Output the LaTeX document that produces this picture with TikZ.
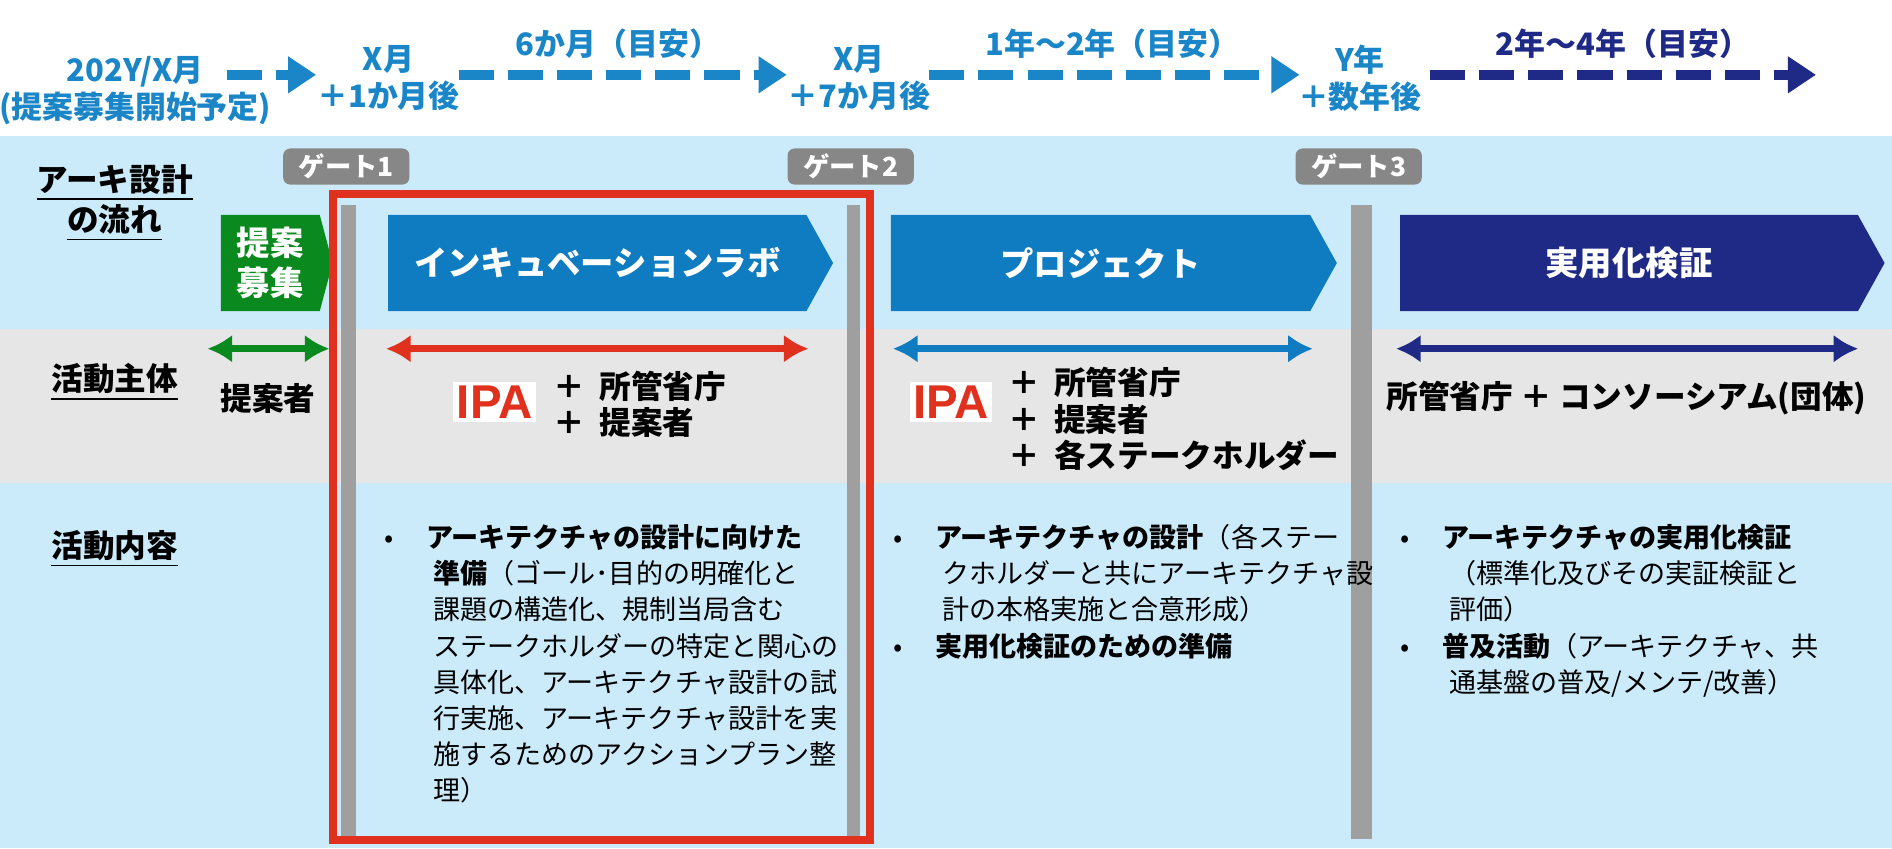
\documentclass[tikz,border=0pt]{standalone}
\usepackage{fontspec}
\setmainfont{Noto Sans CJK JP}
\newfontfamily\logofont{Liberation Sans}
\usetikzlibrary{shapes.symbols,arrows.meta}
\definecolor{bandblue}{HTML}{CCEBFA}
\definecolor{bandgrey}{HTML}{E6E6E6}
\definecolor{midblue}{HTML}{0F7BC1}
\definecolor{navy}{HTML}{1E2A86}
\definecolor{leafgreen}{HTML}{0A8A1E}
\definecolor{ipared}{HTML}{E0301E}
\definecolor{timeblue}{HTML}{1A86C8}
\begin{document}
\begin{tikzpicture}[x=0.01207cm,y=-0.01207cm,
 every node/.style = {inner sep=0pt, font=\fontsize{7.7}{10.3}\selectfont},
 timelabel/.style = {text=timeblue, font=\fontsize{8.8}{10.5}\selectfont\bfseries, align=center},
 dasharrow/.style = {draw=timeblue, line width=2.8pt, dash pattern=on 10pt off 4pt, -{Triangle[length=8pt,width=10pt]}},
 gatebox/.style = {fill=gray!65!black!70, rounded corners=2pt, text=white, minimum width={105*0.3422pt}, minimum height={30*0.3422pt}, font=\fontsize{7.5}{9}\selectfont\bfseries},
 gatebar/.style = {fill=gray!75},
 chevron/.style = {shape=signal, signal to=east, signal pointer angle=122, minimum height={80*0.3422pt}, text=white, font=\fontsize{9.5}{11.5}\selectfont\bfseries, align=center},
 rowlabel/.style = {font=\fontsize{9}{11.5}\selectfont\bfseries, align=center},
 span/.style = {line width=2pt, {Latex[length=7pt,width=8pt]}-{Latex[length=7pt,width=8pt]}},
 logo/.style = {text=ipared, font=\logofont\fontsize{13.5}{13.5}\selectfont\bfseries, fill=white, inner sep=1pt},
 block/.style = {align=left, anchor=north west}]
 \useasboundingbox (0,0) rectangle (1568,703);
 % bands
 \fill[bandblue] (0,113) rectangle (1568,273);
 \fill[bandgrey] (0,273) rectangle (1568,400);
 \fill[bandblue] (0,400) rectangle (1568,703);
 % timeline
 \node[timelabel] (t0) at (112,75) {202Y/X月\\(提案募集開始予定)};
 \node[timelabel] (t1) at (322,65) {X月\\＋1か月後};
 \node[timelabel] (t2) at (712,65) {X月\\＋7か月後};
 \node[timelabel] (t3) at (1127,65) {Y年\\＋数年後};
 \coordinate (tend) at (1505,62);
 \draw[dasharrow] (188,62) -- (262,62);
 \draw[dasharrow] (380,62) -- (652,62);
 \draw[dasharrow] (770,62) -- (1077,62);
 \draw[dasharrow, draw=navy] (1185,62) -- (tend);
 \node[timelabel] (d1) at (512,36) {6か月（目安）};
 \node[timelabel] (d2) at (922,36) {1年～2年（目安）};
 \node[timelabel, text=navy] (d3) at (1345,36) {2年～4年（目安）};
 % gates
 \node[gatebox] (g1) at (287,138) {ゲート1};
 \node[gatebox] (g2) at (705,138) {ゲート2};
 \node[gatebox] (g3) at (1126,138) {ゲート3};
 \fill[gatebar] (283,170) rectangle (295,695);
 \fill[gatebar] (702,170) rectangle (713,695);
 \fill[gatebar] (1120,170) rectangle (1137,695);
 % flow
 \node[chevron, fill=leafgreen, minimum width={93*0.3422pt}, signal pointer angle=150] (s0) at (224,218) {提案\\募集};
 \node[chevron, fill=midblue, minimum width={370*0.3422pt}] (s1) at (495,218) {インキュベーションラボ};
 \node[chevron, fill=midblue, minimum width={371*0.3422pt}] (s2) at (912,218) {プロジェクト};
 \node[chevron, fill=navy, minimum width={403*0.3422pt}] (s3) at (1350,218) {実用化検証};
 \draw[ipared, line width=2.2pt] (276,161) rectangle (721,696);
 % row labels
 \node[rowlabel] (r1) at (95,168) {\underline{アーキ設計}\\\underline{の流れ}};
 \node[rowlabel] (r2) at (95,317) {\underline{活動主体}};
 \node[rowlabel] (r3) at (95,455) {\underline{活動内容}};
 % actors
 \draw[span, leafgreen] (172,289) -- (273,289);
 \draw[span, ipared] (320,289) -- (670,289);
 \draw[span, midblue] (740,289) -- (1088,289);
 \draw[span, navy] (1157,289) -- (1540,289);
 \node[rowlabel] (a0) at (222,330) {提案者};
 \node[logo] (ipa1) at (410,333) {IPA};
 \node[block, font=\fontsize{9}{10}\selectfont\bfseries] (a1) at (458,307) {＋\ \ 所管省庁\\[0.3pt]＋\ \ 提案者};
 \node[logo] (ipa2) at (788,333) {IPA};
 \node[block, font=\fontsize{9}{10}\selectfont\bfseries] (a2) at (835,304) {＋\ \ 所管省庁\\[0.3pt]＋\ \ 提案者\\[0.3pt]＋\ \ 各ステークホルダー};
 \node[rowlabel] (a3) at (1348,330) {所管省庁 ＋ コンソーシアム(団体)};
 % contents
 \node[block] (c1) at (318,434) {•\hspace{1.2em}\textbf{アーキテクチャの設計に向けた}\\
 \hspace{1.8em}\textbf{準備}（ゴール･目的の明確化と\\
 \hspace{1.8em}課題の構造化、規制当局含む\\
 \hspace{1.8em}ステークホルダーの特定と関心の\\
 \hspace{1.8em}具体化、アーキテクチャ設計の試\\
 \hspace{1.8em}行実施、アーキテクチャ設計を実\\
 \hspace{1.8em}施するためのアクションプラン整\\
 \hspace{1.8em}理）};
 \node[block] (c2) at (740,434) {•\hspace{1.2em}\textbf{アーキテクチャの設計}（各ステー\\
 \hspace{1.8em}クホルダーと共にアーキテクチャ設\\
 \hspace{1.8em}計の本格実施と合意形成）\\
 •\hspace{1.2em}\textbf{実用化検証のための準備}};
 \node[block] (c3) at (1160,434) {•\hspace{1.2em}\textbf{アーキテクチャの実用化検証}\\
 \hspace{1.8em}（標準化及びその実証検証と\\
 \hspace{1.8em}評価）\\
 •\hspace{1.2em}\textbf{普及活動}（アーキテクチャ、共\\
 \hspace{1.8em}通基盤の普及/メンテ/改善）};
\end{tikzpicture}
\end{document}
